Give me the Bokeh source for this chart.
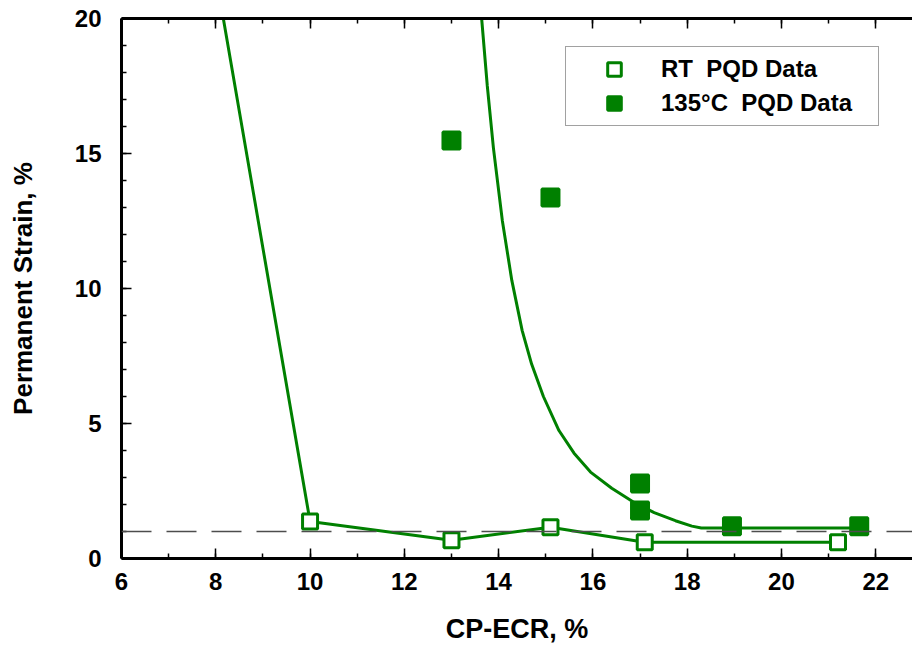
from bokeh.plotting import figure
from bokeh.models import (Range1d, LinearAxis, Span, Legend, LegendItem, FixedTicker,
                          CustomLabelingPolicy)
from bokeh.embed import file_html
from bokeh.resources import INLINE

# ---- data ----
rt_x = [10.0, 13.0, 15.1, 17.1, 21.2]
rt_y = [1.37, 0.68, 1.16, 0.60, 0.60]
ht_x = [13.0, 15.1, 17.0, 17.0, 18.95, 21.65]
ht_y = [15.48, 13.37, 2.78, 1.78, 1.19, 1.19]
rt_fit_x = [8.16, 10.0, 13.0, 15.1, 17.1, 21.2]
rt_fit_y = [20.0, 1.37, 0.68, 1.16, 0.60, 0.60]
ht_fit_x = [13.64, 13.76, 13.89, 14.08, 14.28, 14.50, 14.70, 14.95, 15.28, 15.60,
            15.95, 16.40, 16.85, 17.30, 17.75, 18.10, 18.30, 21.65]
ht_fit_y = [20.0, 17.5, 15.2, 12.5, 10.3, 8.44, 7.2, 6.0, 4.74, 3.9,
            3.2, 2.6, 2.1, 1.70, 1.40, 1.20, 1.13, 1.13]
threshold = 1.0
x_ticks = [6, 8, 10, 12, 14, 16, 18, 20, 22]
x_minor = list(range(6, 24))
y_ticks = [0, 5, 10, 15, 20]
y_minor = list(range(0, 21))
labels = ["RT  PQD Data", "135\u00b0C  PQD Data"]

GREEN = "#008000"
FONT = "Liberation Sans"

p = figure(width=912, height=646, output_backend="svg", toolbar_location=None,
           x_range=Range1d(6, 22.78), y_range=Range1d(0, 20),
           min_border_left=121, min_border_right=0, min_border_top=18, min_border_bottom=88)
p.outline_line_color = None
p.xgrid.visible = False
p.ygrid.visible = False
p.background_fill_color = "white"
p.border_fill_color = "white"

def style_axis(ax, ticks, minor):
    ax.ticker = FixedTicker(ticks=ticks, minor_ticks=minor)
    ax.axis_line_width = 3
    ax.axis_line_color = "black"
    ax.major_tick_in = 10
    ax.major_tick_out = 0
    ax.minor_tick_in = 5
    ax.minor_tick_out = 0
    ax.major_tick_line_width = 1.5
    ax.minor_tick_line_width = 1.5
    ax.major_tick_line_color = "black"
    ax.minor_tick_line_color = "black"
    ax.major_label_text_font = FONT
    ax.major_label_text_font_style = "bold"
    ax.major_label_text_font_size = "24px"
    ax.major_label_text_color = "black"
    ax.axis_label_text_font = FONT
    ax.axis_label_text_font_style = "bold"
    ax.axis_label_text_color = "black"

xa = p.xaxis[0]
style_axis(xa, x_ticks, x_minor)
xa.axis_label = "CP-ECR, %"
xa.axis_label_text_font_size = "27px"
xa.major_label_standoff = 14
xa.axis_label_standoff = 21

ya = p.yaxis[0]
style_axis(ya, y_ticks, y_minor)
ya.axis_label = "Permanent Strain, %"
ya.axis_label_text_font_size = "26px"
ya.major_label_standoff = 20
ya.axis_label_standoff = 34

hide_labels = CustomLabelingPolicy(code="""
try { indices.clear(); } catch (e) {
  try { for (let i = 0; i < indices.size; i++) { indices.unset(i); } } catch (e2) {}
}
return indices;
""")

top = LinearAxis()
style_axis(top, x_ticks, x_minor)
top.major_label_text_font_size = "0px"
top.major_label_standoff = 0
top.major_label_policy = hide_labels
p.add_layout(top, "above")

p.add_layout(Span(location=threshold, dimension="width", line_color="#4d4d4d",
                  line_width=1.5, line_dash="30 15"))

p.line(rt_fit_x, rt_fit_y, line_color=GREEN, line_width=3)
p.line(ht_fit_x, ht_fit_y, line_color=GREEN, line_width=3)

r_rt = p.scatter(rt_x, rt_y, marker="square", size=15, fill_color="white",
                 line_color=GREEN, line_width=3)
r_ht = p.scatter(ht_x, ht_y, marker="square", size=17, fill_color=GREEN,
                 line_color=GREEN, line_width=3)

legend = Legend(items=[LegendItem(label=labels[0], renderers=[r_rt]),
                       LegendItem(label=labels[1], renderers=[r_ht])],
                location=(444, 432), orientation="vertical",
                glyph_width=86, glyph_height=34, spacing=0, padding=5,
                label_standoff=4, label_width=212, margin=0,
                label_text_font=FONT, label_text_font_style="bold",
                label_text_font_size="24px", label_text_color="black",
                border_line_color="#444444", border_line_width=1.5,
                background_fill_color="white", background_fill_alpha=1.0)
p.add_layout(legend, "center")

open("out.html", "w").write(file_html(p, INLINE))
